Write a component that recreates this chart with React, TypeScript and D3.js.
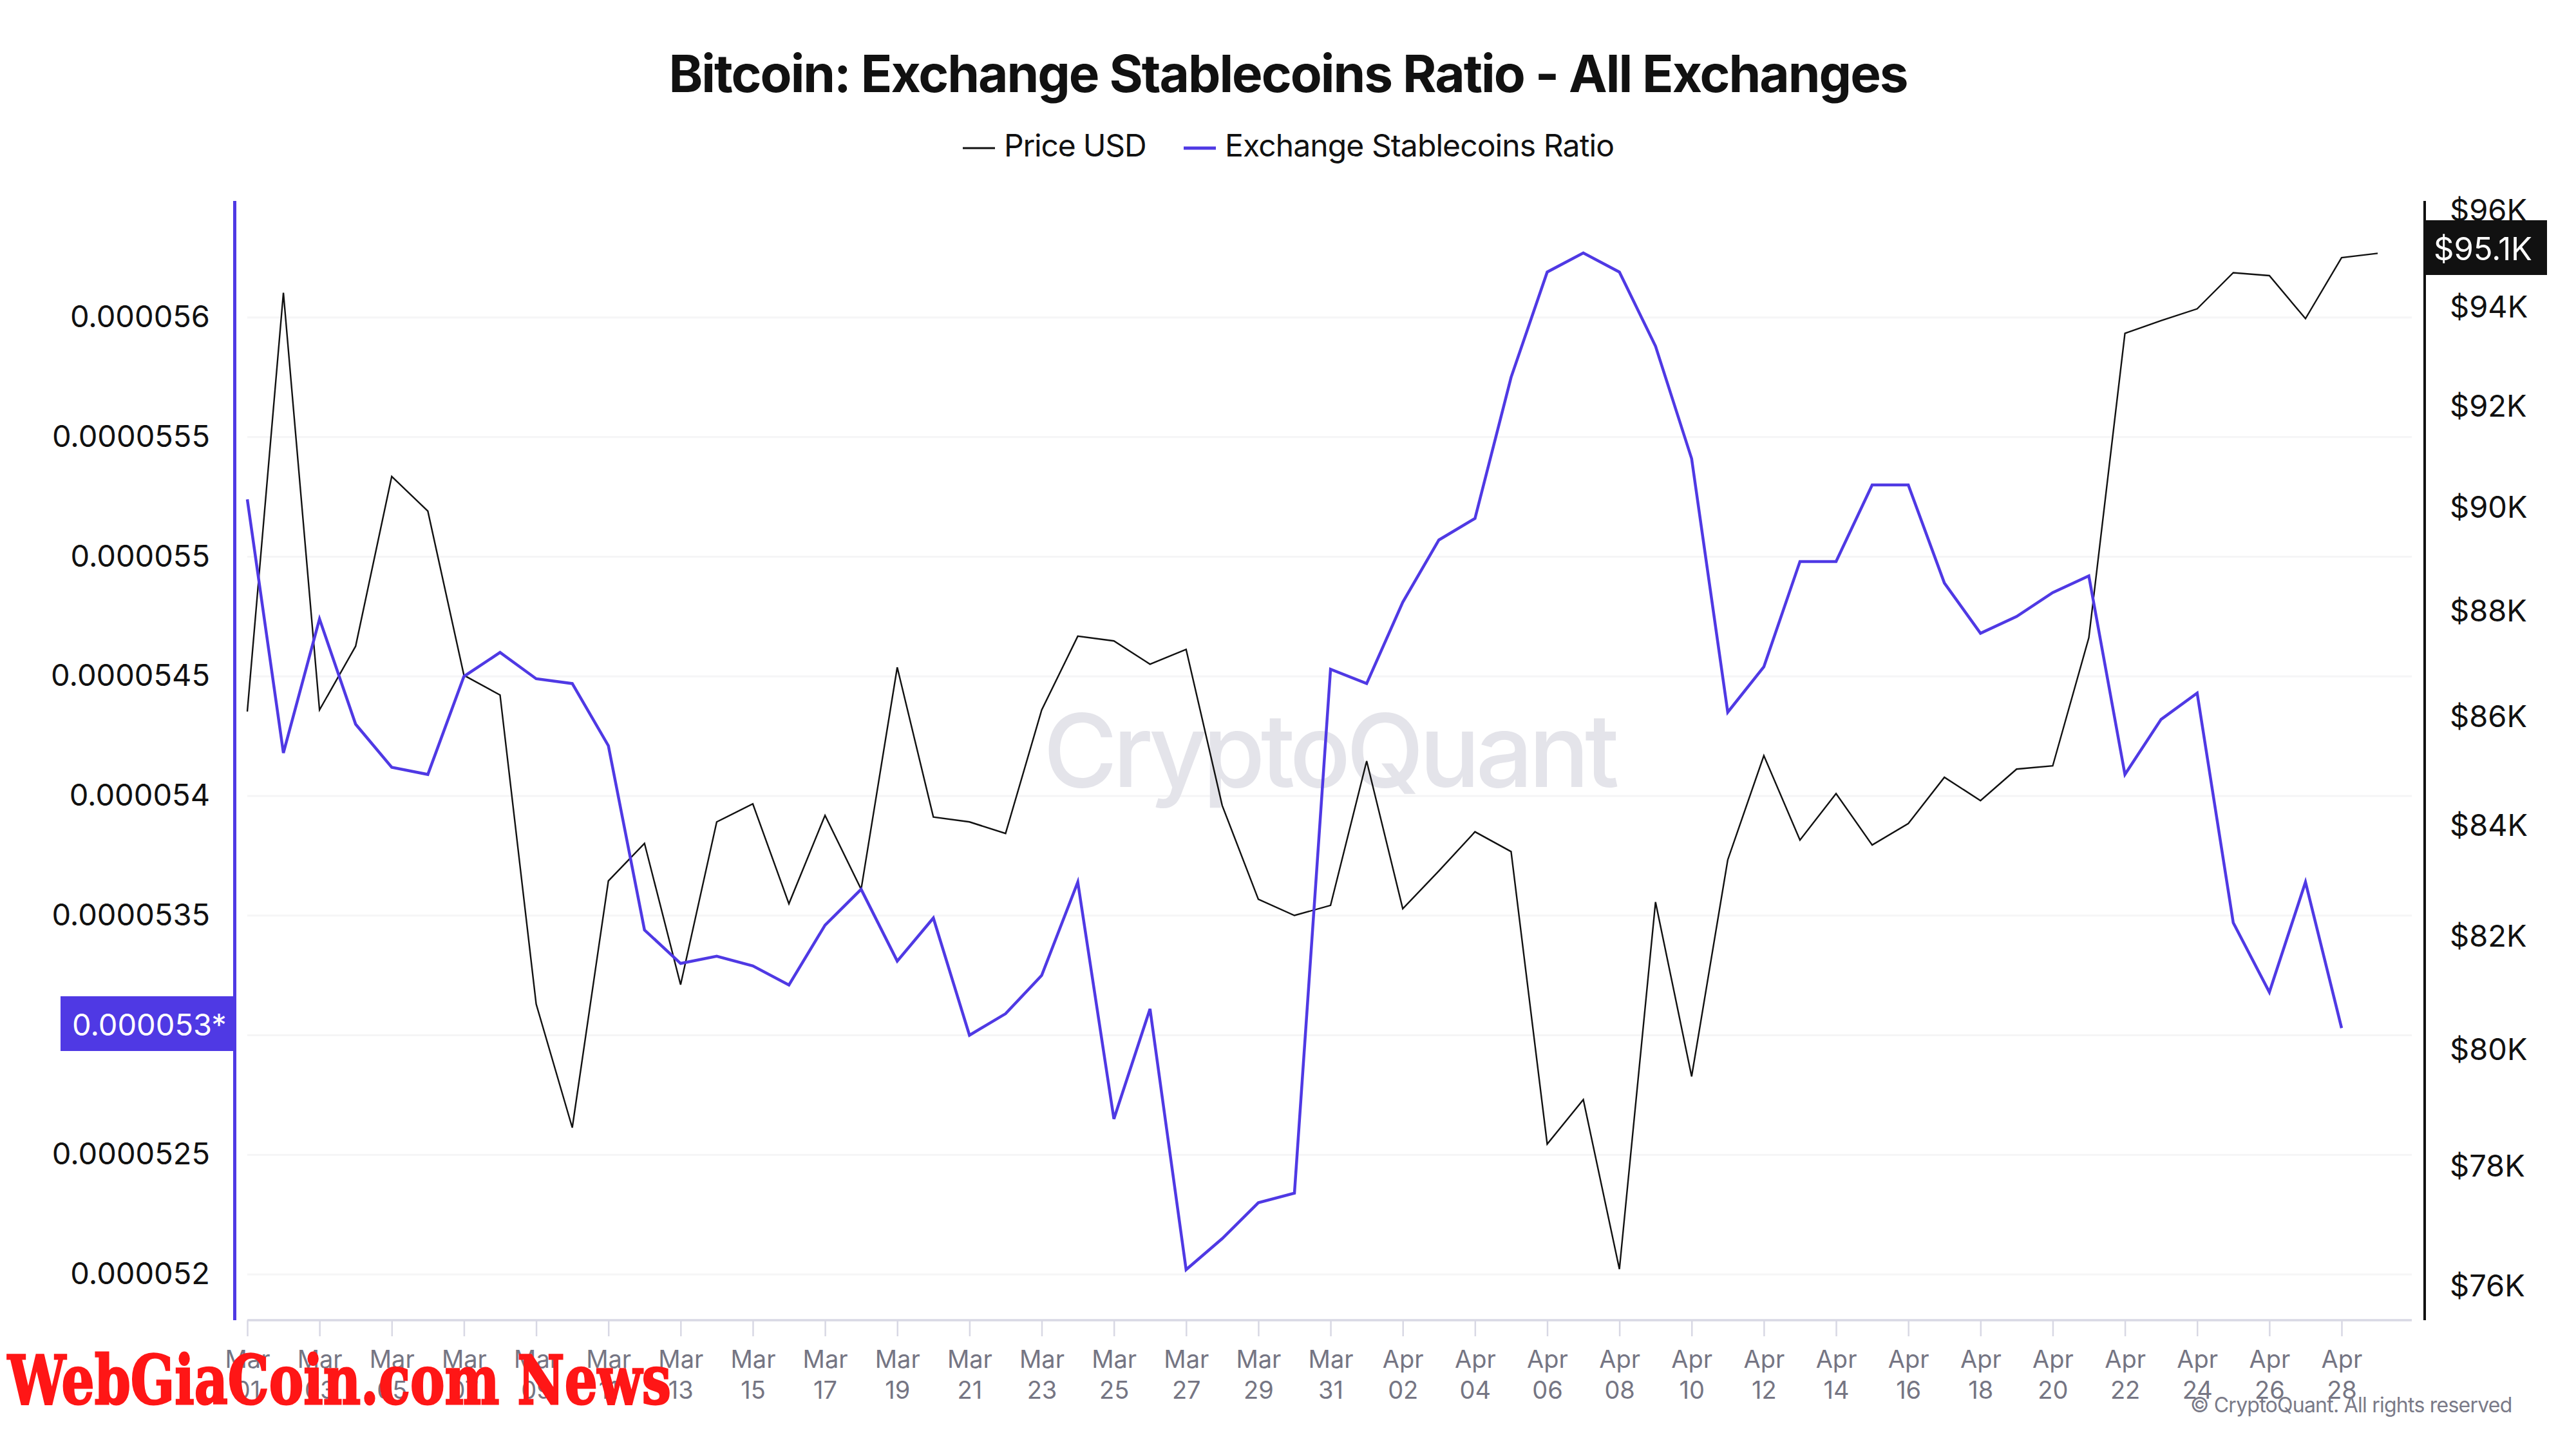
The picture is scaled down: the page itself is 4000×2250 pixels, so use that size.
import { useEffect, useRef } from "react"
import * as d3 from "d3"

const startDate = new Date(Date.UTC(2025, 2, 1))
const endTick = new Date(Date.UTC(2025, 3, 28))

const priceUsd = [
  86090, 94290, 86120, 87320, 90600, 89920, 86770, 86400, 80790, 78650, 82980, 83660, 81130, 84050, 84380,
  82570, 84170, 82830, 86920, 84140, 84050, 83840, 86120, 87510, 87420, 86980, 87260, 84350, 82650, 82360,
  82540, 85170, 82480, 83160, 83870, 83510, 78370, 79130, 76270, 82600, 79530, 83360, 85270, 83720, 84570,
  83630, 84020, 84870, 84440, 85020, 85080, 87480, 93460, 93720, 93960, 94700, 94640, 93760, 95010, 95100,
]

const stablecoinsRatio = [
  55.24, 54.18, 54.74, 54.3, 54.12, 54.09, 54.5, 54.6, 54.49, 54.47, 54.21, 53.44, 53.3, 53.33, 53.29, 53.21,
  53.46, 53.61, 53.31, 53.49, 53.0, 53.09, 53.25, 53.64, 52.65, 53.11, 52.02, 52.15, 52.3, 52.34, 54.53, 54.47,
  54.81, 55.07, 55.16, 55.75, 56.19, 56.27, 56.19, 55.88, 55.41, 54.35, 54.54, 54.98, 54.98, 55.3, 55.3, 54.89,
  54.68, 54.75, 54.85, 54.92, 54.09, 54.32, 54.43, 53.47, 53.18, 53.64, 53.03,
].map((v) => v / 1e6)

const ratioTicks = [0.000052, 0.0000525, 0.000053, 0.0000535, 0.000054, 0.0000545, 0.000055, 0.0000555, 0.000056]
const priceTicks = [76000, 78000, 80000, 82000, 84000, 86000, 88000, 90000, 92000, 94000, 96000]

const FONT = "Inter, sans-serif"
const INK = "#111111"
const BLUE = "#4f39e4"
const MUTED = "#757583"

export default function App() {
  const svgRef = useRef<SVGSVGElement>(null)

  useEffect(() => {
    if (!svgRef.current) return

    const svg = d3.select(svgRef.current)
    svg.selectAll("*").remove()

    const x = d3.scaleUtc().domain([startDate, endTick]).range([384, 3636])
    const yRatio = d3.scaleLinear().domain([0.000052, 0.000056]).range([1979, 493])
    const yPrice = d3.scaleLog().domain([76000, 96000]).range([1996, 326])
    const dayAt = (i: number) => d3.utcDay.offset(startDate, i)

    // Title
    svg
      .append("text")
      .attr("x", 2000)
      .attr("y", 143)
      .attr("text-anchor", "middle")
      .attr("font-size", 80)
      .attr("font-weight", 700)
      .attr("letter-spacing", -2)
      .attr("fill", INK)
      .text("Bitcoin: Exchange Stablecoins Ratio - All Exchanges")

    // Legend
    const legend = [
      { label: "Price USD", color: INK, x: 1495, sw: 3, textX: 1559, spacing: -1.2 },
      { label: "Exchange Stablecoins Ratio", color: BLUE, x: 1838, sw: 5, textX: 1902, spacing: -0.9 },
    ]
    legend.forEach((d) => {
      svg
        .append("line")
        .attr("x1", d.x)
        .attr("x2", d.x + 50)
        .attr("y1", 230)
        .attr("y2", 230)
        .attr("stroke", d.color)
        .attr("stroke-width", d.sw)
      svg
        .append("text")
        .attr("x", d.textX)
        .attr("y", 243)
        .attr("font-size", 48)
        .attr("letter-spacing", d.spacing)
        .attr("fill", INK)
        .text(d.label)
    })

    // Grid lines
    svg
      .append("g")
      .selectAll("line")
      .data(ratioTicks)
      .enter()
      .append("line")
      .attr("x1", 384)
      .attr("x2", 3745)
      .attr("y1", (d) => yRatio(d))
      .attr("y2", (d) => yRatio(d))
      .attr("stroke", "#f5f5f6")
      .attr("stroke-width", 3)

    // Watermark
    svg
      .append("text")
      .attr("x", 1620)
      .attr("y", 1222)
      .attr("font-size", 157)
      .attr("font-weight", 500)
      .attr("letter-spacing", -7)
      .attr("fill", "#e4e4ea")
      .text("CryptoQuant")

    // Left axis
    const leftAxis = svg
      .append("g")
      .attr("transform", "translate(362, 0)")
      .call(
        d3
          .axisLeft(yRatio)
          .tickValues(ratioTicks)
          .tickSize(0)
          .tickPadding(36)
          .tickFormat((d) => String(+(+d).toFixed(7))),
      )
    leftAxis.select(".domain").remove()
    leftAxis.selectAll("text").attr("font-size", 47).attr("font-family", FONT).attr("fill", INK).attr("dy", "0.31em")

    // Right axis
    const rightAxis = svg
      .append("g")
      .attr("transform", "translate(3765, 0)")
      .call(
        d3
          .axisRight(yPrice)
          .tickValues(priceTicks)
          .tickSize(0)
          .tickPadding(39)
          .tickFormat((d) => `$${+d / 1000}K`),
      )
    rightAxis.select(".domain").remove()
    rightAxis.selectAll("text").attr("font-size", 47).attr("font-family", FONT).attr("fill", INK).attr("dy", "0.35em")

    // Bottom axis
    const bottomAxis = svg
      .append("g")
      .attr("transform", "translate(0, 2050)")
      .call(
        d3
          .axisBottom(x)
          .tickValues(d3.utcDay.range(startDate, d3.utcDay.offset(endTick, 1), 2))
          .tickSize(25)
          .tickSizeOuter(0),
      )
    bottomAxis
      .select(".domain")
      .attr("d", "M384,0H3745")
      .attr("stroke", "#d8d8e4")
      .attr("stroke-width", 3.5)
    bottomAxis.selectAll(".tick line").attr("stroke", "#d8d8e4").attr("stroke-width", 2.5)
    bottomAxis.selectAll<SVGTextElement, Date>(".tick text").each(function (d) {
      const t = d3.select(this)
      t.text(null)
        .attr("y", 0)
        .attr("dy", null)
        .attr("font-size", 38)
        .attr("font-family", FONT)
        .attr("fill", MUTED)
      t.append("tspan").attr("x", 0).attr("y", 74).text(d3.utcFormat("%b")(d))
      t.append("tspan").attr("x", 0).attr("y", 122).text(d3.utcFormat("%d")(d))
    })

    // Axis rules
    svg.append("rect").attr("x", 362).attr("y", 312).attr("width", 5).attr("height", 1738).attr("fill", BLUE)
    svg.append("rect").attr("x", 3763).attr("y", 312).attr("width", 4).attr("height", 1738).attr("fill", INK)

    // Series
    const priceLine = d3
      .line<number>()
      .x((_, i) => x(dayAt(i)))
      .y((d) => yPrice(d))
    const ratioLine = d3
      .line<number>()
      .x((_, i) => x(dayAt(i)))
      .y((d) => yRatio(d))

    svg
      .append("path")
      .attr("d", priceLine(priceUsd))
      .attr("fill", "none")
      .attr("stroke", INK)
      .attr("stroke-width", 2.4)
    svg
      .append("path")
      .attr("d", ratioLine(stablecoinsRatio))
      .attr("fill", "none")
      .attr("stroke", BLUE)
      .attr("stroke-width", 4.5)

    // Last value badges
    svg.append("rect").attr("x", 94).attr("y", 1547).attr("width", 273).attr("height", 85).attr("fill", BLUE)
    svg
      .append("text")
      .attr("x", 112)
      .attr("y", 1608)
      .attr("font-size", 47)
      .attr("fill", "#fff")
      .text("0.000053*")
    svg.append("rect").attr("x", 3763).attr("y", 342).attr("width", 192).attr("height", 85).attr("fill", INK)
    svg
      .append("text")
      .attr("x", 3779)
      .attr("y", 404)
      .attr("font-size", 49)
      .attr("fill", "#fff")
      .text("$95.1K")

    // Copyright
    svg
      .append("text")
      .attr("x", 3401)
      .attr("y", 2193)
      .attr("font-size", 32)
      .attr("letter-spacing", -0.76)
      .attr("fill", "#7a7a88")
      .text("© CryptoQuant. All rights reserved")

    // Site stamp
    svg
      .append("text")
      .attr("x", 12)
      .attr("y", 2180)
      .attr("font-size", 104)
      .attr("font-family", "'DejaVu Serif', serif")
      .attr("font-weight", 700)
      .attr("fill", "#ff1616")
      .attr("stroke", "#ff1616")
      .attr("stroke-width", 3)
      .attr("textLength", 1030)
      .attr("lengthAdjust", "spacingAndGlyphs")
      .text("WebGiaCoin.com News")
  }, [])

  return (
    <svg
      ref={svgRef}
      width={4000}
      height={2250}
      viewBox="0 0 4000 2250"
      fontFamily={FONT}
      style={{ position: "absolute", left: 0, top: 0, background: "#fff" }}
    />
  )
}
